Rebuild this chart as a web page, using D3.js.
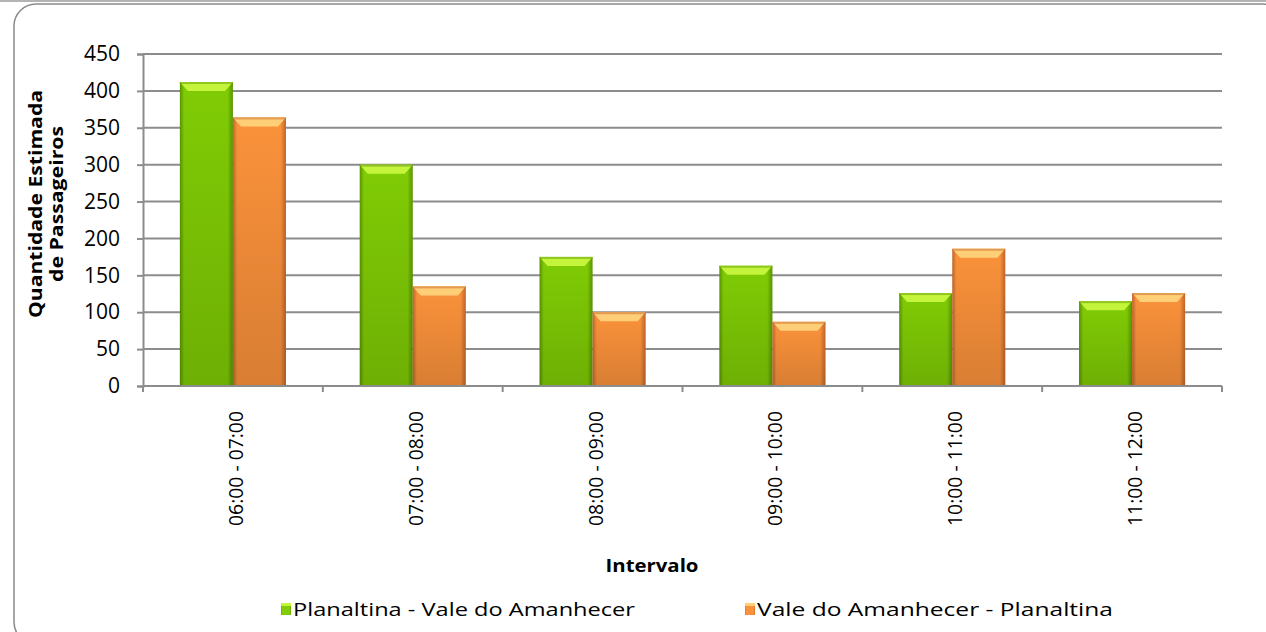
<!DOCTYPE html>
<html>
<head>
<meta charset="utf-8">
<script src="https://cdn.jsdelivr.net/npm/d3@7"></script>
<style>
  body { margin: 0; background: #fff; }
  svg { display: block; }
  text { font-family: "Open Sans", sans-serif; fill: #000; }
</style>
</head>
<body>
<div id="chart"></div>
<script>
const categories = ["06:00 - 07:00", "07:00 - 08:00", "08:00 - 09:00", "09:00 - 10:00", "10:00 - 11:00", "11:00 - 12:00"];
const seriesNames = ["Planaltina - Vale do Amanhecer", "Vale do Amanhecer - Planaltina"];
const planaltinaVale = [412, 300, 175, 163, 126, 115];
const valePlanaltina = [364, 135, 100, 87, 186, 126];
const yTicks = [0, 50, 100, 150, 200, 250, 300, 350, 400, 450];

const W = 1266, H = 632;
const plotLeft = 143, plotRight = 1222, plotTop = 54, plotBottom = 386;

const svg = d3.select("#chart").append("svg")
    .attr("width", W)
    .attr("height", H);

const defs = svg.append("defs");

// bevel-ish gradients for the bars
function barGradient(id, dark, mid) {
    const g = defs.append("linearGradient").attr("id", id)
        .attr("x1", "0").attr("x2", "1").attr("y1", "0").attr("y2", "0");
    g.append("stop").attr("offset", "0").attr("stop-color", dark);
    g.append("stop").attr("offset", "0.08").attr("stop-color", mid);
    g.append("stop").attr("offset", "0.9").attr("stop-color", mid);
    g.append("stop").attr("offset", "1").attr("stop-color", dark);
    const v = defs.append("linearGradient").attr("id", id + "-v")
        .attr("x1", "0").attr("x2", "0").attr("y1", "0").attr("y2", "1");
    v.append("stop").attr("offset", "0").attr("stop-color", "#000").attr("stop-opacity", 0);
    v.append("stop").attr("offset", "1").attr("stop-color", "#000").attr("stop-opacity", 0.14);
}
barGradient("g-green", "#5a9400", "#80cc05");
barGradient("g-orange", "#c0662a", "#fb923b");

const colors = [
    { fill: "url(#g-green)", shade: "url(#g-green-v)", cap: "#c4f53c", edge: "#5e9a02" },
    { fill: "url(#g-orange)", shade: "url(#g-orange-v)", cap: "#ffcf78", edge: "#c8692a" }
];

// chart frame
svg.append("line")
    .attr("x1", 0).attr("x2", W).attr("y1", 1).attr("y2", 1)
    .attr("stroke", "#9a9a9a").attr("stroke-width", 1.5);
svg.append("rect")
    .attr("x", 14).attr("y", 4)
    .attr("width", 1270).attr("height", 640)
    .attr("rx", 22).attr("ry", 22)
    .attr("fill", "none")
    .attr("stroke", "#8a8a8a").attr("stroke-width", 1.5);

const x0 = d3.scaleBand()
    .domain(categories)
    .range([plotLeft, plotRight])
    .paddingInner(0.41)
    .paddingOuter(0.205);

const x1 = d3.scaleBand()
    .domain([0, 1])
    .range([0, x0.bandwidth()]);

const y = d3.scaleLinear()
    .domain([0, 450])
    .range([plotBottom, plotTop]);

// gridlines
svg.append("g")
    .selectAll("line")
    .data(yTicks.filter(d => d > 0))
    .join("line")
    .attr("x1", plotLeft).attr("x2", plotRight)
    .attr("y1", d => y(d)).attr("y2", d => y(d))
    .attr("stroke", "#8c8c8c").attr("stroke-width", 2);

// y axis
const yAxis = svg.append("g")
    .attr("transform", `translate(${plotLeft},0)`)
    .call(d3.axisLeft(y).tickValues(yTicks).tickSize(6).tickPadding(17));
yAxis.select(".domain").attr("stroke", "#8c8c8c").attr("stroke-width", 2);
yAxis.selectAll(".tick line").attr("stroke", "#8c8c8c").attr("stroke-width", 2);
yAxis.selectAll(".tick text")
    .attr("font-family", "Open Sans, sans-serif")
    .attr("font-size", 21)
    .attr("fill", "#000");

// bars
const data = categories.map((c, i) => ({ cat: c, vals: [planaltinaVale[i], valePlanaltina[i]] }));
const groups = svg.append("g")
    .selectAll("g")
    .data(data)
    .join("g")
    .attr("transform", d => `translate(${x0(d.cat)},0)`);

const bars = groups.selectAll("g")
    .data(d => d.vals.map((v, k) => ({ k, v })))
    .join("g");

bars.append("rect")
    .attr("x", d => x1(d.k))
    .attr("y", d => y(d.v))
    .attr("width", x1.bandwidth())
    .attr("height", d => y(0) - y(d.v))
    .attr("fill", d => colors[d.k].fill);
bars.append("rect")
    .attr("x", d => x1(d.k))
    .attr("y", d => y(d.v))
    .attr("width", x1.bandwidth())
    .attr("height", d => y(0) - y(d.v))
    .attr("fill", d => colors[d.k].shade);
// top bevel
bars.append("path")
    .attr("d", d => {
        const bx = x1(d.k), bw = x1.bandwidth(), by = y(d.v);
        return `M${bx},${by}H${bx + bw}L${bx + bw - 8},${by + 9}H${bx + 8}Z`;
    })
    .attr("fill", d => colors[d.k].cap);
bars.append("rect")
    .attr("x", d => x1(d.k))
    .attr("y", d => y(d.v))
    .attr("width", x1.bandwidth())
    .attr("height", 2)
    .attr("fill", d => colors[d.k].edge)
    .attr("opacity", 0.5);

// x axis
const xAxis = svg.append("g")
    .attr("transform", `translate(0,${plotBottom})`);
xAxis.append("line")
    .attr("x1", plotLeft).attr("x2", plotRight)
    .attr("stroke", "#8c8c8c").attr("stroke-width", 2);
const step = x0.step();
xAxis.selectAll("line.sep")
    .data(d3.range(categories.length + 1))
    .join("line")
    .attr("class", "sep")
    .attr("x1", i => plotLeft + i * step).attr("x2", i => plotLeft + i * step)
    .attr("y1", 0).attr("y2", 6)
    .attr("stroke", "#8c8c8c").attr("stroke-width", 2);
xAxis.selectAll("text")
    .data(categories)
    .join("text")
    .attr("transform", d => `translate(${x0(d) + x0.bandwidth() / 2 + 10},25) rotate(-90)`)
    .attr("text-anchor", "end")
    .attr("font-size", 20)
    .attr("textLength", 115)
    .attr("lengthAdjust", "spacingAndGlyphs")
    .text(d => d);

// axis titles
svg.append("text")
    .attr("x", 652).attr("y", 572)
    .attr("text-anchor", "middle")
    .attr("font-size", 18)
    .attr("font-weight", "bold")
    .attr("textLength", 93)
    .attr("lengthAdjust", "spacingAndGlyphs")
    .text("Intervalo");

const yTitleLines = ["Quantidade Estimada", "de Passageiros"];
const yTitleLen = [228, 156];
svg.append("g")
    .selectAll("text")
    .data(yTitleLines)
    .join("text")
    .attr("transform", (d, i) => `translate(${42 + i * 21},204) rotate(-90)`)
    .attr("text-anchor", "middle")
    .attr("font-size", 18)
    .attr("font-weight", "bold")
    .attr("textLength", (d, i) => yTitleLen[i])
    .attr("lengthAdjust", "spacingAndGlyphs")
    .text(d => d);

// legend
const legendX = [281, 745];
const legendLen = [342, 356];
const legend = svg.append("g")
    .selectAll("g")
    .data(seriesNames)
    .join("g")
    .attr("transform", (d, i) => `translate(${legendX[i]},603)`);
legend.append("rect")
    .attr("x", 0).attr("y", 0)
    .attr("width", 10).attr("height", 12)
    .attr("fill", (d, i) => colors[i].fill);
legend.append("rect")
    .attr("x", 0).attr("y", 0)
    .attr("width", 10).attr("height", 3)
    .attr("fill", (d, i) => colors[i].cap);
legend.append("text")
    .attr("x", 12).attr("y", 13)
    .attr("font-size", 18)
    .attr("textLength", (d, i) => legendLen[i])
    .attr("lengthAdjust", "spacingAndGlyphs")
    .text(d => d);
</script>
</body>
</html>
